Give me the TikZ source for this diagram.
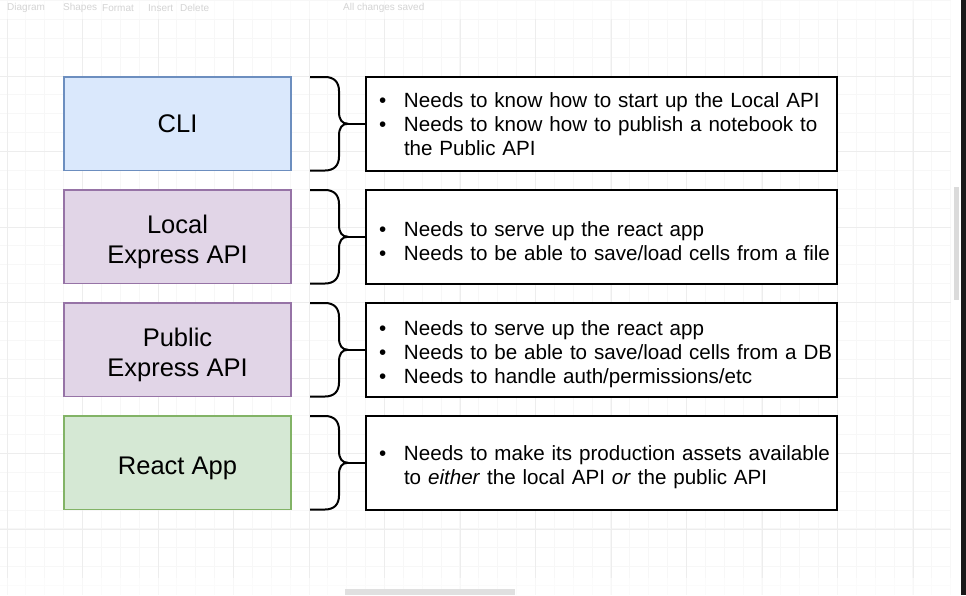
\documentclass[tikz,border=0pt]{standalone}
\usepackage{fontspec}
\setmainfont{Liberation Sans}
\usepackage{tikz}
\usepackage{xcolor}
\definecolor{cliFill}{HTML}{DAE8FC}
\definecolor{cliLine}{HTML}{6C8EBF}
\definecolor{apiFill}{HTML}{E1D5E7}
\definecolor{apiLine}{HTML}{9673A6}
\definecolor{appFill}{HTML}{D5E8D4}
\definecolor{appLine}{HTML}{82B366}
\definecolor{gridMinor}{HTML}{F7F7F7}
\definecolor{gridMajor}{HTML}{EDEDED}
\definecolor{uiText}{HTML}{D4D4D4}
\tikzstyle{partbox}=[draw,line width=1.5pt,minimum width=227pt,
  minimum height=93.5pt,inner sep=0pt,align=center,
  font=\fontsize{25.5}{30}\selectfont]
\tikzstyle{notebox}=[draw=black,line width=2pt,fill=white,
  minimum width=471pt,minimum height=93.5pt,text width=451pt,
  inner xsep=10pt,inner ysep=0pt,align=left,
  font=\fontsize{20.6}{24}\selectfont]
\tikzstyle{bracket}=[line width=2pt,line join=round]
\tikzstyle{uilabel}=[text=uiText,inner sep=0pt,anchor=west,
  font=\fontsize{10}{12}\selectfont]
\newcommand\bul[1]{\par\hangindent=28pt\hangafter=1\noindent
  \makebox[28pt][l]{\hspace{3pt}\textbullet}#1\par}
\newcommand\toprule{\rule{0pt}{29pt}}% pushes two-line titles down
\newcommand\curly[2]{% #1 top y, #2 notes node
  \draw[bracket] (310,#1) -- ++(15,0)
    .. controls +(9,0) and +(0,-9) .. ++(14,14) -- ++(0,20.75)
    .. controls +(0,8) and +(-6,0) .. ++(9,12) coordinate (#2tip)
    .. controls +(-6,0) and +(0,-8) .. ++(-9,12) -- ++(0,20.75)
    .. controls +(0,9) and +(9,0) .. ++(-14,14) -- ++(-15,0);
  \draw[bracket] (#2tip) -- (#2.west)}

\begin{document}
\begin{tikzpicture}[x=1pt,y=-1pt]
  \useasboundingbox (0,0) rectangle (966,595);
  \fill[white] (0,0) rectangle (966,595);

  % editor grid
  \foreach \i in {0,...,50}
    \draw[gridMinor,line width=0.8pt] (7+\i*18.87,0) -- (7+\i*18.87,595);
  \foreach \i in {0,...,31}
    \draw[gridMinor,line width=0.8pt] (0,0.5+\i*18.87) -- (951,0.5+\i*18.87);
  \foreach \i in {0,...,12}
    \draw[gridMajor,line width=0.8pt] (7+\i*75.5,0) -- (7+\i*75.5,595);
  \foreach \i in {0,...,7}
    \draw[gridMajor,line width=0.8pt] (0,0.5+\i*75.5) -- (951,0.5+\i*75.5);
  \fill[white,opacity=0.6] (0,0) rectangle (951,19);
  \fill[white,opacity=0.6] (0,578) rectangle (951,595);
  \fill[white] (951,0) rectangle (961,595);
  \fill[black!14] (954,187) rectangle (959,300);
  \fill[black!12] (345,589) rectangle (515,595);
  \fill[black!90] (961,0) rectangle (966,595);

  \node[uilabel] (menuDiagram) at (7,8) {Diagram};
  \node[uilabel] (menuShapes) at (63,8) {Shapes};
  \node[uilabel] (menuFormat) at (102,8) {Format};
  \node[uilabel] (menuInsert) at (148,8) {Insert};
  \node[uilabel] (menuDelete) at (180,8) {Delete};
  \node[uilabel] (saveState) at (343,8) {All changes saved};

  % parts
  \node[partbox,fill=cliFill,draw=cliLine] (cli) at (177.5,123.75) {CLI};
  \node[partbox,fill=apiFill,draw=apiLine] (localApi) at (177.5,236.75)
    {\toprule Local\\Express API};
  \node[partbox,fill=apiFill,draw=apiLine] (publicApi) at (177.5,349.75)
    {\toprule Public\\Express API};
  \node[partbox,fill=appFill,draw=appLine] (reactApp) at (177.5,462.75)
    {\rule{0pt}{28pt}React App};

  % requirements
  \node[notebox] (cliNotes) at (601.5,123.75) {%
    \bul{Needs to know how to start up the Local API}
    \bul{\mbox{Needs to know how to publish a notebook to}\newline
      the Public API\rule[-8pt]{0pt}{8pt}}};
  \node[notebox] (localNotes) at (601.5,236.75) {%
    \bul{Needs to serve up the react app}
    \bul{\mbox{Needs to be able to save/load cells from a file}}};
  \node[notebox] (publicNotes) at (601.5,349.75) {%
    \bul{Needs to serve up the react app}
    \bul{\mbox{Needs to be able to save/load cells from a DB}}
    \bul{Needs to handle auth/permissions/etc}};
  \node[notebox] (reactNotes) at (601.5,462.75) {%
    \bul{\mbox{Needs to make its production assets available}\newline
      to \textit{either} the local API \textit{or} the public API}};

  \curly{77}{cliNotes};
  \curly{190}{localNotes};
  \curly{303}{publicNotes};
  \curly{416}{reactNotes};
\end{tikzpicture}
\end{document}
